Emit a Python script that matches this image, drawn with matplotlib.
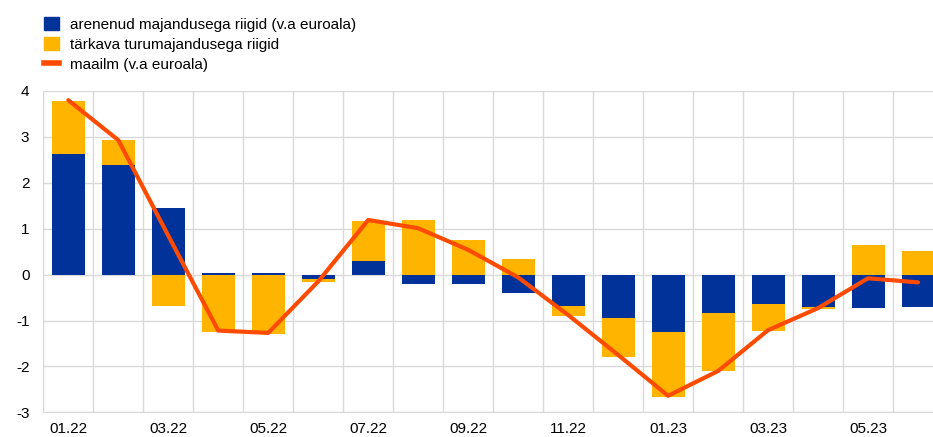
import numpy as np
import matplotlib.pyplot as plt
from matplotlib.patches import Patch
from matplotlib.lines import Line2D

plt.rcParams['font.family'] = ['Liberation Sans', 'DejaVu Sans']
plt.rcParams['axes.unicode_minus'] = False

months = ['01.22', '02.22', '03.22', '04.22', '05.22', '06.22', '07.22', '08.22', '09.22',
          '10.22', '11.22', '12.22', '01.23', '02.23', '03.23', '04.23', '05.23', '06.23']
arenenud = [2.63, 2.38, 1.45, 0.03, 0.03, -0.10, 0.30, -0.20, -0.20,
            -0.39, -0.68, -0.95, -1.24, -0.84, -0.64, -0.70, -0.73, -0.70]
tarkava = [1.15, 0.55, -0.68, -1.24, -1.30, -0.07, 0.87, 1.19, 0.75,
           0.33, -0.22, -0.85, -1.42, -1.26, -0.58, -0.06, 0.64, 0.52]
maailm = [3.80, 2.93, 0.85, -1.22, -1.27, -0.15, 1.19, 1.01, 0.54,
          -0.06, -0.88, -1.75, -2.64, -2.10, -1.21, -0.73, -0.08, -0.17]

c_blue = '#003299'
c_yellow = '#FFB400'
c_orange = '#FF4B00'

x = np.arange(len(months))
a = np.array(arenenud)
t = np.array(tarkava)
# yellow stacks on blue when both have the same sign
bottom_t = np.where(np.sign(a) == np.sign(t), a, 0)

fig = plt.figure(figsize=(9.33, 4.37), dpi=100)
ax = fig.add_axes([43.3 / 933, 1 - 412.3 / 437, 1 - 43.3 / 933, (412.3 - 91) / 437])

ax.bar(x, a, width=0.66, color=c_blue, zorder=2)
ax.bar(x, t, width=0.66, bottom=bottom_t, color=c_yellow, zorder=2)
ax.plot(x, maailm, color=c_orange, lw=3, zorder=3, solid_capstyle='round')

ax.set_yticks(range(-3, 5))
ax.set_xticks(x[::2])
ax.set_xticklabels(months[::2])
ax.set_xticks(np.arange(-0.5, 18, 1), minor=True)
ax.set_xlim(-0.5, 17.3)
ax.set_ylim(-3, 4)

ax.grid(False)
ax.grid(True, which='minor', axis='x', color='#d9d9d9', lw=1, zorder=0)
ax.grid(True, which='major', axis='y', color='#d9d9d9', lw=1, zorder=0)
for s in ['top', 'right']:
    ax.spines[s].set_visible(False)
for s in ['left', 'bottom']:
    ax.spines[s].set_color('#d9d9d9')
ax.tick_params(which='both', length=0)
ax.tick_params(axis='x', pad=7, labelsize=11)
ax.tick_params(axis='y', pad=10, labelsize=11)

handles = [Patch(color=c_blue), Patch(color=c_yellow), Line2D([], [], color=c_orange, lw=4)]
labels = ['arenenud majandusega riigid (v.a euroala)', 'tärkava turumajandusega riigid',
          'maailm (v.a euroala)']
fig.legend(handles, labels, loc='upper left', bbox_to_anchor=(38 / 933, 1 - 11 / 437),
           frameon=False, fontsize=11, handlelength=1.0, handleheight=0.9,
           handletextpad=0.7, labelspacing=0.35, borderaxespad=0)

fig.savefig('out.png', dpi=100)
